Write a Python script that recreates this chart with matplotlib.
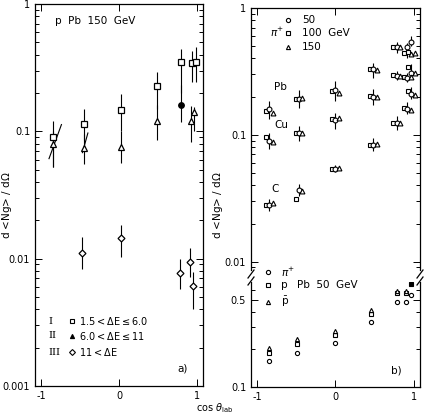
import numpy as np
import matplotlib
matplotlib.use("Agg")
import matplotlib.pyplot as plt
from matplotlib.ticker import FixedLocator, FixedFormatter, LogLocator, NullFormatter
from matplotlib.lines import Line2D

plt.rcParams['font.family'] = ['DejaVu Sans']
plt.rcParams['font.size'] = 7

# ---------------- Panel a data: p Pb 150 GeV ----------------
xa_sq = [-0.85, -0.45, 0.03, 0.49, 0.80, 0.94, 0.99]
ya_sq = [0.090, 0.114, 0.146, 0.229, 0.352, 0.341, 0.350]
lo_sq = [0.052, 0.085, 0.100, 0.150, 0.200, 0.246, 0.246]
hi_sq = [0.121, 0.151, 0.198, 0.293, 0.440, 0.426, 0.460]

xa_tr = [-0.85, -0.45, 0.03, 0.49, 0.80, 0.93, 0.97]
ya_tr = [0.080, 0.074, 0.0754, 0.121, 0.162, 0.120, 0.141]
lo_tr = [0.052, 0.0557, 0.056, 0.086, 0.119, 0.083, 0.100]
hi_tr = [0.100, 0.095, 0.100, 0.160, 0.230, 0.157, 0.154]
tr_filled = [False, False, False, False, True, False, False]

xa_di = [-0.47, 0.02, 0.78, 0.91, 0.955]
ya_di = [0.0111, 0.0145, 0.0077, 0.0095, 0.0061]
lo_di = [0.0083, 0.0103, 0.0058, 0.0072, 0.0040]
hi_di = [0.0148, 0.0185, 0.0100, 0.0121, 0.0078]

# tilted (angular) error segments
slant_x0 = [-0.90, -0.47]
slant_x1 = [-0.74, -0.40]
slant_y0 = [0.061, 0.068]
slant_y1 = [0.113, 0.097]

legend_a_roman = ["I", "II", "III"]
legend_a_text = [r"1.5$<\Delta$E$\leq$6.0", r"6.0$<\Delta$E$\leq$11", r"11$<\Delta$E"]

# ---------------- Panel b (upper): pi+ on Pb, Cu, C at 50/100/150 GeV ----------------
xb = [-0.85, -0.47, 0.0, 0.48, 0.78, 0.92, 0.97]
Pb50 = [0.160, 0.190, 0.225, 0.330, 0.490, 0.490, 0.540]
Pb100 = [0.155, 0.190, 0.220, 0.330, 0.490, 0.440, 0.450]
Pb150 = [0.150, 0.195, 0.215, 0.325, 0.490, 0.430, 0.440]
Pb_lo = [0.133, 0.164, 0.186, 0.280, 0.440, 0.400, 0.500]
Pb_hi = [0.185, 0.225, 0.264, 0.370, 0.540, 0.530, 0.600]
Cu50 = [0.090, 0.104, 0.130, 0.200, 0.290, 0.280, 0.310]
Cu100 = [0.096, 0.104, 0.133, 0.203, 0.295, 0.285, 0.340]
Cu150 = [0.088, 0.104, 0.135, 0.198, 0.290, 0.285, 0.310]
Cu_lo = [0.077, 0.090, 0.111, 0.173, 0.270, 0.260, 0.300]
Cu_hi = [0.104, 0.118, 0.149, 0.230, 0.320, 0.310, 0.360]
C50 = [0.028, 0.037, 0.054, 0.083, 0.125, 0.160, 0.210]
C100 = [0.028, 0.031, 0.054, 0.083, 0.123, 0.163, 0.220]
C150 = [0.029, 0.036, 0.055, 0.085, 0.125, 0.157, 0.205]
C_lo = [0.025, 0.033, 0.051, 0.075, 0.110, 0.145, 0.190]
C_hi = [0.031, 0.041, 0.058, 0.095, 0.140, 0.180, 0.240]

# ---------------- Panel b (lower): Pb 50 GeV, pi+, p, pbar ----------------
xl = [-0.85, -0.49, 0.0, 0.46, 0.78, 0.905, 0.96]
low_pi = [0.161, 0.188, 0.225, 0.330, 0.480, 0.480, 0.545]
low_p = [0.186, 0.222, 0.260, 0.385, 0.560, 0.560, 0.660]
low_pbar = [0.205, 0.240, 0.280, 0.410, 0.590, 0.590, np.nan]
p_filled = [False, False, False, False, False, False, True]

W, H = 424, 415
fig = plt.figure(figsize=(W / 100, H / 100), dpi=100)

def fx(px):
    return px / W

def fy(py):
    return 1 - py / H

LW = 0.8

def style_axes(ax):
    ax.tick_params(which='both', direction='in', top=True, right=True, width=0.7)
    ax.tick_params(which='major', length=5)
    ax.tick_params(which='minor', length=3)
    for s in ax.spines.values():
        s.set_linewidth(0.9)

# ================= Panel a =================
ax = fig.add_axes([fx(35), fy(386), fx(203 - 35), (386 - 4) / H])
ax.set_yscale('log')
ax.set_ylim(0.001, 1)
ax.set_xlim(-1.08, 1.08)
style_axes(ax)
ax.set_xticks([-1, 0, 1])
ax.set_xticklabels(["-1", "0", "1"])
ax.yaxis.set_major_locator(FixedLocator([0.001, 0.01, 0.1, 1]))
ax.yaxis.set_major_formatter(FixedFormatter(["0.001", "0.01", "0.1", "1"]))
ax.yaxis.set_minor_locator(LogLocator(base=10, subs=np.arange(2, 10)))
ax.yaxis.set_minor_formatter(NullFormatter())

ax.vlines(xa_sq, lo_sq, hi_sq, color='k', lw=LW)
ax.vlines(xa_tr, lo_tr, hi_tr, color='k', lw=LW)
ax.vlines(xa_di, lo_di, hi_di, color='k', lw=LW)
for x0, x1, y0, y1 in zip(slant_x0, slant_x1, slant_y0, slant_y1):
    ax.plot([x0, x1], [y0, y1], color='k', lw=LW)
ax.plot(xa_sq, ya_sq, 's', ms=4, mfc='white', mec='k', mew=0.9, ls='none')
for x, y, f in zip(xa_tr, ya_tr, tr_filled):
    ax.plot([x], [y], 'o' if f else '^', ms=4, mfc='k' if f else 'white', mec='k', mew=0.9)
ax.plot(xa_di, ya_di, 'D', ms=3.5, mfc='white', mec='k', mew=0.9, ls='none')

ax.text(0.12, 0.955, "p  Pb  150  GeV", transform=ax.transAxes, fontsize=7.5, va='center')
leg_y = [0.17, 0.131, 0.089]
leg_m = [('s', 'white'), ('^', 'k'), ('D', 'white')]
for yy, r, t, (m, fc) in zip(leg_y, legend_a_roman, legend_a_text, leg_m):
    ax.text(0.08, yy, r, transform=ax.transAxes, fontsize=7, va='center', family='serif')
    ax.plot([0.22], [yy], m, ms=3, mfc=fc, mec='k', mew=0.8, transform=ax.transAxes, clip_on=False)
    ax.text(0.26, yy, t, transform=ax.transAxes, fontsize=7, va='center')
ax.text(0.85, 0.045, "a)", transform=ax.transAxes, fontsize=7.5, va='center')

# ================= Panel b upper =================
axu = fig.add_axes([fx(251), fy(270), fx(420 - 251), (270 - 8) / H])
axu.set_yscale('log')
axu.set_ylim(0.0086, 1)
axu.set_xlim(-1.08, 1.08)
style_axes(axu)
axu.spines['bottom'].set_visible(False)
axu.tick_params(axis='x', which='both', bottom=False, labelbottom=False)
axu.set_xticks([-1, 0, 1])
axu.yaxis.set_major_locator(FixedLocator([0.01, 0.1, 1]))
axu.yaxis.set_major_formatter(FixedFormatter(["0.01", "0.1", "1"]))
axu.yaxis.set_minor_locator(LogLocator(base=10, subs=np.arange(2, 10)))
axu.yaxis.set_minor_formatter(NullFormatter())

xb_arr = np.array(xb)
for lo, hi, s50, s100, s150 in [(Pb_lo, Pb_hi, Pb50, Pb100, Pb150),
                                 (Cu_lo, Cu_hi, Cu50, Cu100, Cu150),
                                 (C_lo, C_hi, C50, C100, C150)]:
    axu.vlines(xb_arr, lo, hi, color='k', lw=LW)
    axu.plot(xb_arr - 0.04, s100, 's', ms=3.5, mfc='white', mec='k', mew=0.8, ls='none')
    axu.plot(xb_arr, s50, 'o', ms=3.5, mfc='white', mec='k', mew=0.8, ls='none')
    axu.plot(xb_arr + 0.045, s150, '^', ms=3.5, mfc='white', mec='k', mew=0.8, ls='none')

axu.text(0.136, 0.70, "Pb", transform=axu.transAxes, fontsize=7.5, va='center')
axu.text(0.136, 0.553, "Cu", transform=axu.transAxes, fontsize=7.5, va='center')
axu.text(0.12, 0.31, "C", transform=axu.transAxes, fontsize=7.5, va='center')
leg_b = [(0.954, 'o', "50"), (0.905, 's', "100  GeV"), (0.85, '^', "150")]
for yy, m, t in leg_b:
    axu.plot([0.22], [yy], m, ms=3, mfc='white', mec='k', mew=0.8, transform=axu.transAxes, clip_on=False)
    axu.text(0.30, yy, t, transform=axu.transAxes, fontsize=7.5, va='center')
axu.text(0.11, 0.905, r"$\pi^{+}$", transform=axu.transAxes, fontsize=7.5, va='center')

# ================= Panel b lower =================
axl = fig.add_axes([fx(251), fy(387), fx(420 - 251), (387 - 282) / H])
axl.set_yscale('log')
axl.set_ylim(0.1, 0.69)
axl.set_xlim(-1.08, 1.08)
style_axes(axl)
axl.spines['top'].set_visible(False)
axl.tick_params(axis='x', which='both', top=False)
axl.set_xticks([-1, 0, 1])
axl.set_xticklabels(["-1", "0", "1"])
axl.yaxis.set_major_locator(FixedLocator([0.1, 0.5]))
axl.yaxis.set_major_formatter(FixedFormatter(["0.1", "0.5"]))
axl.yaxis.set_minor_locator(FixedLocator([0.2, 0.3, 0.4, 0.6]))
axl.yaxis.set_minor_formatter(NullFormatter())

axl.plot(xl, low_pi, 'o', ms=3, mfc='white', mec='k', mew=0.8, ls='none')
for x, y, f in zip(xl, low_p, p_filled):
    axl.plot([x], [y], 's', ms=3, mfc='k' if f else 'white', mec='k', mew=0.8)
axl.plot(xl, low_pbar, '^', ms=3, mfc='white', mec='k', mew=0.8, ls='none')

leg_l = [(1.095, 'o', r"$\pi^{+}$"), (0.971, 's', "p"), (0.81, '^', r"$\bar{\mathrm{p}}$")]
for yy, m, t in leg_l:
    axl.plot([0.102], [yy], m, ms=3, mfc='white', mec='k', mew=0.8, transform=axl.transAxes, clip_on=False)
    axl.text(0.18, yy, t, transform=axl.transAxes, fontsize=7.5, va='center', clip_on=False)
axl.text(0.27, 0.971, "Pb  50  GeV", transform=axl.transAxes, fontsize=7.5, va='center', clip_on=False)
axl.text(0.83, 0.16, "b)", transform=axl.transAxes, fontsize=7.5, va='center')

# axis break marks
for xp in (251, 420):
    for yp in (274, 281):
        fig.add_artist(Line2D([fx(xp - 3), fx(xp + 3)], [fy(yp + 4), fy(yp - 4)],
                              color='k', lw=0.9, transform=fig.transFigure))

# axis labels
fig.text(fx(7), fy(205), r"d <Ng> / d$\Omega$", rotation=90, ha='center', va='center', fontsize=7.5)
fig.text(fx(218), fy(205), r"d <Ng> / d$\Omega$", rotation=90, ha='center', va='center', fontsize=7.5)
fig.text(fx(215), fy(408), r"cos $\theta_{\rm lab}$", ha='center', va='center', fontsize=7)

fig.savefig("out.png", dpi=100)
